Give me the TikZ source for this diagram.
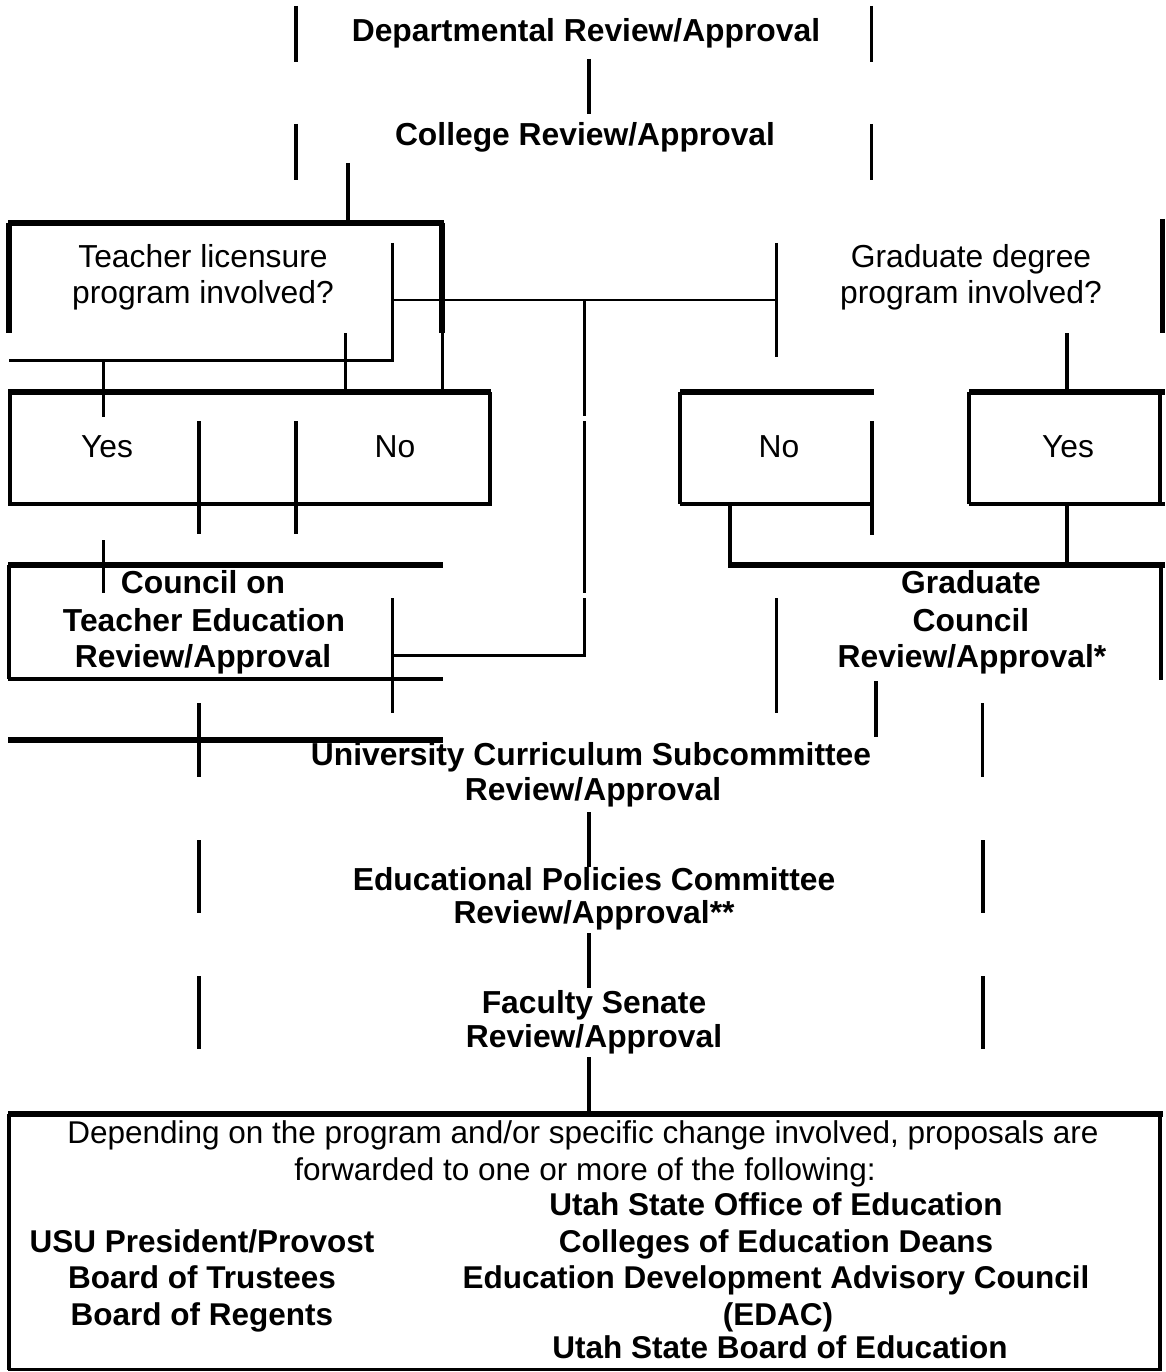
\documentclass[tikz,border=0pt]{standalone}
\usepackage{fontspec}
\setmainfont{Liberation Sans}
\begin{document}
\begin{tikzpicture}[x=1pt,y=-1pt,
  thk/.style={line width=5.5pt},
  med/.style={line width=3.8pt},
  thn/.style={line width=3pt},
  bt/.style={font=\bfseries\fontsize{31.8}{38}\selectfont, inner sep=0pt, anchor=base},
  rt/.style={font=\fontsize{31.8}{38}\selectfont, inner sep=0pt, anchor=base},
  bb/.style={font=\bfseries\fontsize{31.5}{37}\selectfont, inner sep=0pt, anchor=base},
  rb/.style={font=\fontsize{31.5}{37}\selectfont, inner sep=0pt, anchor=base}]
\useasboundingbox[fill=white] (0,0) rectangle (1165,1372);

% ---- texts ----
\node[bt] (dept) at (586,42) {Departmental Review/Approval};
\node[bt] (coll) at (585,146) {College Review/Approval};
\node[rt] (tl1) at (203,267) {Teacher licensure};
\node[rt] (tl2) at (203,303) {program involved?};
\node[rt] (gd1) at (971,267) {Graduate degree};
\node[rt] (gd2) at (971,303) {program involved?};
\node[rt] (yesL) at (107,457) {Yes};
\node[rt] (noL) at (395,457) {No};
\node[rt] (noR) at (779,457) {No};
\node[rt] (yesR) at (1068,457) {Yes};
\node[bt] (cte1) at (203,593) {Council on};
\node[bt] (cte2) at (204,631) {Teacher Education};
\node[bt] (cte3) at (203,667) {Review/Approval};
\node[bt] (gc1) at (971,593) {Graduate};
\node[bt] (gc2) at (971,631) {Council};
\node[bt] (gc3) at (972,667) {Review/Approval*};
\node[bt] (ucs1) at (591,765) {University Curriculum Subcommittee};
\node[bt] (ucs2) at (593,800) {Review/Approval};
\node[bt] (epc1) at (594,890) {Educational Policies Committee};
\node[bt] (epc2) at (594,923) {Review/Approval**};
\node[bt] (fs1) at (594,1013) {Faculty Senate};
\node[bt] (fs2) at (594,1047) {Review/Approval};
\node[rb] (b1) at (583,1143) {Depending on the program and/or specific change involved, proposals are};
\node[rb] (b2) at (585,1180) {forwarded to one or more of the following:};
\node[bb] (b3) at (776,1215) {Utah State Office of Education};
\node[bb] (b4) at (202,1252) {USU President/Provost};
\node[bb] (b5) at (776,1252) {Colleges of Education Deans};
\node[bb] (b6) at (202,1288) {Board of Trustees};
\node[bb] (b7) at (776,1288) {Education Development Advisory Council};
\node[bb] (b8) at (202,1325) {Board of Regents};
\node[bb] (b9) at (778,1325) {(EDAC)};
\node[bb] (b10) at (780,1358) {Utah State Board of Education};

% ---- top part ----
\draw[med] (296,6) -- (296,62);
\draw[med] (871.5,6) -- (871.5,62);
\draw[med] (589,59) -- (589,114);
\draw[med] (296,124) -- (296,180);
\draw[med] (871.5,124) -- (871.5,180);
\draw[med] (348,163) -- (348,223);

% teacher licensure box remnants
\draw[thk] (8,223) -- (444,223);
\draw[thk] (9,223) -- (9,333);
\draw[line width=6pt] (441.5,223) -- (441.5,333);
\draw[thn] (442,333) -- (442,392);
\draw[thn] (392,243) -- (392,360) -- (9,360);
\draw[line width=2.7pt] (392,300) -- (776,300);
\draw[thn] (776,243) -- (776,357);
\draw[thk] (1162.5,219) -- (1162.5,333);
\draw[med] (1067,333) -- (1067,392);
\draw[thn] (103,360) -- (103,417);
\draw[thn] (345.7,333) -- (345.7,392);

% yes/no left box
\draw[thk] (8,392) -- (491,392);
\draw[med] (10,392) -- (10,504);
\draw[med] (490,392) -- (490,504);
\draw[med] (8,504) -- (492,504);
\draw[med] (199,421) -- (199,534);
\draw[med] (296,421) -- (296,534);

% middle vertical
\draw[thn] (584,300) -- (584,416);
\draw[thn] (584,421) -- (584,593);
\draw[thn] (584,598) -- (584,655) -- (392,655);

% no right box
\draw[thk] (680,392) -- (874,392);
\draw[med] (680,392) -- (680,504);
\draw[med] (680,504) -- (874,504);
\draw[med] (872,421) -- (872,535);

% yes right box
\draw[thk] (969,392) -- (1165,392);
\draw[med] (969,392) -- (969,504);
\draw[med] (1160,392) -- (1160,504);
\draw[med] (969,504) -- (1165,504);

% graduate council remnants
\draw[med] (730,504) -- (730,565);
\draw[med] (1067,504) -- (1067,565);
\draw[thk] (728,565) -- (1165,565);
\draw[med] (1161,565) -- (1161,680);

% council on teacher education box
\draw[thk] (8,565) -- (443,565);
\draw[med] (9,565) -- (9,679);
\draw[med] (8,679) -- (443,679);
\draw[thn] (103,540) -- (103,593);
\draw[thn] (392,598) -- (392,713);
\draw[thn] (776,598) -- (776,713);
\draw[med] (876,681) -- (876,737);
\draw[med] (982.5,703) -- (982.5,777);
\draw[med] (199,703) -- (199,777);
\draw[thk] (8,740) -- (443,740);

% lower part
\draw[med] (589,812) -- (589,867);
\draw[med] (199,840) -- (199,913);
\draw[med] (983,840) -- (983,913);
\draw[med] (589,933) -- (589,988);
\draw[med] (199,976) -- (199,1049);
\draw[med] (983,976) -- (983,1049);
\draw[med] (589,1057) -- (589,1113);

% bottom box
\draw[thk] (8,1114) -- (1163,1114);
\draw[med] (9,1114) -- (9,1370);
\draw[med] (1160,1114) -- (1160,1370);
\draw[thn] (8,1369) -- (1162,1369);
\end{tikzpicture}
\end{document}
